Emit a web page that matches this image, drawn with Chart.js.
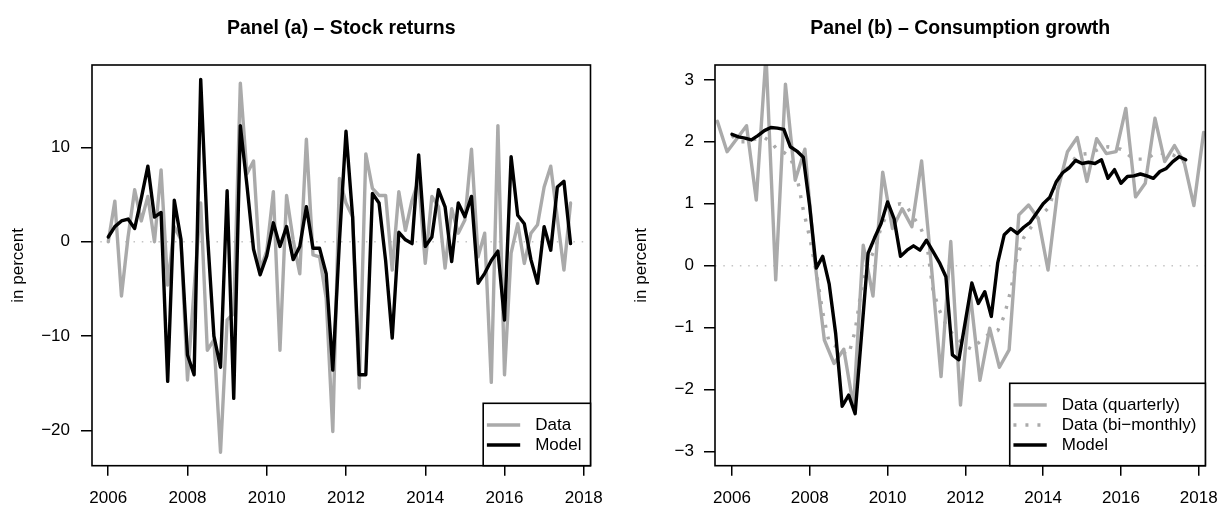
<!DOCTYPE html>
<html>
<head>
<meta charset="utf-8">
<script src="https://cdn.jsdelivr.net/npm/chart.js@4.4.0/dist/chart.umd.min.js"></script>
<style>
  html, body { margin: 0; padding: 0; background: #fff; }
  #wrap { position: relative; width: 1230px; height: 506px; }
  .panel { position: absolute; top: 0; width: 615px; height: 506px; }
</style>
</head>
<body>
<div id="wrap">
  <div class="panel" style="left:0"><canvas id="stock" width="615" height="506"></canvas></div>
  <div class="panel" style="left:615px"><canvas id="cons" width="615" height="506"></canvas></div>
</div>
<script>
// bi-monthly series start in Jan 2006, quarterly data start in mid-2005
const biMonthlyStart = 2006;
const quarterlyStart = 2005.625;

const yearTicks = [2006, 2008, 2010, 2012, 2014, 2016, 2018];
const stockTicks = [-20, -10, 0, 10];
const consTicks = [-3, -2, -1, 0, 1, 2, 3];

// Panel (a) - stock returns, in percent
const stockData = [
  0, 4.3, -5.75, 0.5, 5.5, 2.2, 4.8, 0, 7.6, -4.6,
  1.6, 0.2, -14.65, -5, 4.1, -11.5, -10.4, -22.3, -8.3, -7.6,
  16.8, 7.2, 8.55, -3.0, -1.0, 5.3, -11.5, 4.9, 0.2, -3.4,
  10.85, -1.4, -1.6, -6, -20.1, 6.7, 4.1, 2.65, -15.5, 9.3,
  5.65, 4.9, 4.9, -3.0, 5.3, 1.2, 4.4, 6.5, -2.3, 4.8,
  3.7, -2.8, 3.5, 0.9, 2.3, 9.8, -1.6, 0.9, -14.9, 12.3,
  -14.1, -1.2, 1.9, -2.3, 0.9, 1.8, 5.8, 8.0, 2.5, -3.0, 4.1
];
const stockModel = [
  0.5, 1.6, 2.2, 2.4, 1.4, 4.6, 8.0, 2.6, 3.1, -14.8,
  4.4, 0.3, -12, -14.1, 17.2, 1, -10, -13.3, 5.4, -16.6,
  12.3, 6.0, -0.8, -3.5, -1.5, 2.0, -0.5, 1.6, -1.9, -0.5,
  3.7, -0.7, -0.7, -3.4, -13.6, 0, 11.7, 2.65, -14.1, -14.1,
  5.1, 4.1, -2, -10.2, 1.0, 0.2, -0.2, 9.2, -0.5, 0.5,
  5.5, 3.7, -2.1, 4.1, 2.65, 4.8, -4.4, -3.35, -2, -1,
  -8.3, 9.0, 2.8, 1.9, -1.9, -4.4, 1.6, -0.9, 5.8, 6.4, -0.2
];

// Panel (b) - consumption growth, in percent
const consQuarterly = [
  2.33, 1.84, 2.05, 2.26, 1.06, 3.4, -0.23, 2.93, 1.38, 1.88,
  0.1, -1.2, -1.58, -1.35, -2.28, 0.33, -0.49, 1.51, 0.6, 0.92,
  0.63, 1.69, 0.0, -1.79, 0.39, -2.25, -0.45, -1.85, -1.01, -1.64,
  -1.36, 0.82, 0.98, 0.76, -0.07, 1.22, 1.84, 2.07, 1.36, 2.05,
  1.81, 1.84, 2.54, 1.11, 1.33, 2.38, 1.68, 1.94, 1.67, 0.97, 2.15
];
const consBiMonthly = [
  2.1, 2.0, 2.0, 2.03, 2.05, 2.07, 2.0, 1.87, 1.83, 1.75,
  1.45, 0.9, 0.45, -0.1, -0.75, -1.25, -1.3, -1.4, -1.44, -1.05,
  -0.35, 0.05, 0.25, 0.62, 0.85, 0.98, 1.0, 0.95, 0.78, 0.63,
  0.4, -0.4, -0.72, -0.95, -1.1, -1.2, -1.3, -1.35, -1.25, -1.15,
  -1.08, -1.05, -0.81, -0.4, 0.15, 0.45, 0.6, 0.76, 0.85, 0.95,
  1.36, 1.5, 1.6, 1.75, 1.8, 1.81, 1.85, 1.9, 1.92, 1.9,
  1.88, 1.8, 1.72, 1.72, 1.72, 1.8, 1.82, 1.8, 1.79, 1.72, 1.65
];
const consModel = [
  2.12, 2.08, 2.06, 2.03, 2.1, 2.18, 2.23, 2.22, 2.2, 1.92,
  1.85, 1.75, 0.95, -0.04, 0.15, -0.3, -1.1, -2.27, -2.09, -2.39,
  -1.1, 0.2, 0.45, 0.68, 1.03, 0.76, 0.15, 0.25, 0.32, 0.25,
  0.41, 0.23, 0.05, -0.18, -1.44, -1.52, -0.9, -0.28, -0.61, -0.42,
  -0.82, 0.05, 0.5, 0.6, 0.52, 0.62, 0.7, 0.85, 1.0, 1.1,
  1.35, 1.5, 1.58, 1.7, 1.65, 1.67, 1.65, 1.71, 1.41, 1.55,
  1.33, 1.44, 1.45, 1.48, 1.45, 1.41, 1.52, 1.57, 1.68, 1.76, 1.71
];

const FONT = '"Liberation Sans", Arial, Helvetica, sans-serif';
const GRAY = "#aaaaaa";
const LINE_W = 3.4;
Chart.defaults.font.family = FONT;
Chart.defaults.color = "#000";

const biMonthly = (values) => values.map((v, i) => ({ x: biMonthlyStart + i / 6, y: v }));
const quarterly = (values) => values.map((v, i) => ({ x: quarterlyStart + i / 4, y: v }));
const minus = (v) => (v < 0 ? "\u2212" + Math.abs(v) : String(v));

// frame around the plot region plus an R-style boxed legend in the bottom right
const frameAndLegend = {
  id: "frameAndLegend",
  afterDraw(chart, args, opts) {
    const { ctx, chartArea: a } = chart;
    ctx.save();
    ctx.strokeStyle = "#000";
    ctx.lineWidth = 1.6;
    ctx.strokeRect(a.left, a.top, a.right - a.left, a.bottom - a.top);

    ctx.font = "17px " + FONT;
    const textW = Math.max(...opts.items.map((it) => ctx.measureText(it.label).width));
    const w = textW + 61;
    const h = opts.items.length * 20 + 22.4;
    const x0 = a.right - w;
    const y0 = a.bottom - h;
    ctx.fillStyle = "#fff";
    ctx.fillRect(x0, y0, w, h);
    ctx.strokeRect(x0, y0, w, h);
    opts.items.forEach((it, i) => {
      const y = y0 + 21.7 + i * 20;
      ctx.strokeStyle = it.color;
      ctx.lineWidth = LINE_W;
      ctx.setLineDash(it.dash || []);
      ctx.beginPath();
      ctx.moveTo(x0 + 3.7, y);
      ctx.lineTo(x0 + 37, y);
      ctx.stroke();
      ctx.setLineDash([]);
      ctx.fillStyle = "#000";
      ctx.textBaseline = "middle";
      ctx.fillText(it.label, x0 + 52, y);
    });
    ctx.restore();
  },
};

function lineSet(points, color, dash) {
  return {
    data: points,
    borderColor: color,
    borderWidth: LINE_W,
    borderDash: dash || [],
    borderJoinStyle: "round",
    borderCapStyle: dash ? "butt" : "round",
    pointRadius: 0,
    tension: 0,
    clip: 0,
  };
}

function zeroLine(xMin, xMax) {
  return {
    data: [{ x: xMin, y: 0 }, { x: xMax, y: 0 }],
    borderColor: "#c4c4c4",
    borderWidth: 1.5,
    borderDash: [1.5, 6.8],
    pointRadius: 0,
    clip: 0,
  };
}

function makeChart(id, cfg) {
  return new Chart(document.getElementById(id), {
    type: "line",
    data: { datasets: cfg.datasets },
    plugins: [frameAndLegend],
    options: {
      responsive: false,
      animation: false,
      layout: { padding: { left: 0, right: cfg.rightPad, top: 0, bottom: 0 } },
      plugins: {
        legend: { display: false },
        tooltip: { enabled: false },
        title: {
          display: true,
          text: cfg.title,
          fullSize: false,
          color: "#000",
          font: { size: 19.5, weight: "bold" },
          padding: { top: 16.8, bottom: 24.8 },
        },
        frameAndLegend: { items: cfg.legend },
      },
      scales: {
        x: {
          type: "linear",
          min: cfg.xMin,
          max: cfg.xMax,
          afterBuildTicks: (s) => { s.ticks = yearTicks.map((v) => ({ value: v })); },
          afterFit: (s) => { s.height = 40.3; },
          border: { display: false },
          grid: { drawOnChartArea: false, drawTicks: true, tickLength: 10, color: "#000", lineWidth: 1.5 },
          ticks: { font: { size: 17 }, padding: 12, maxRotation: 0, autoSkip: false, callback: (v) => String(v) },
        },
        y: {
          min: cfg.yMin,
          max: cfg.yMax,
          afterBuildTicks: (s) => { s.ticks = cfg.yTicks.map((v) => ({ value: v })); },
          afterFit: (s) => { s.width = cfg.yWidth; },
          border: { display: false },
          grid: { drawOnChartArea: false, drawTicks: true, tickLength: 11, color: "#000", lineWidth: 1.5 },
          ticks: { font: { size: 17 }, padding: cfg.yLabelPad, autoSkip: false, callback: (v) => minus(v) },
          title: { display: true, text: "in percent", font: { size: 17 }, padding: { top: cfg.yTitlePad } },
        },
      },
    },
  });
}

makeChart("stock", {
  title: "Panel (a) \u2013 Stock returns",
  xMin: 2005.59, xMax: 2018.17,
  yMin: -23.73, yMax: 18.72,
  yTicks: stockTicks,
  yWidth: 92, yLabelPad: 11, yTitlePad: 8.1, rightPad: 24,
  datasets: [
    lineSet(biMonthly(stockModel), "#000"),
    lineSet(biMonthly(stockData), GRAY),
    zeroLine(2005.59, 2018.17),
  ],
  legend: [
    { label: "Data", color: GRAY },
    { label: "Model", color: "#000" },
  ],
});

makeChart("cons", {
  title: "Panel (b) \u2013 Consumption growth",
  xMin: 2005.564, xMax: 2018.17,
  yMin: -3.23, yMax: 3.24,
  yTicks: consTicks,
  yWidth: 100, yLabelPad: 10, yTitlePad: 16.1, rightPad: 15,
  datasets: [
    lineSet(biMonthly(consModel), "#000"),
    lineSet(quarterly(consQuarterly), GRAY),
    lineSet(biMonthly(consBiMonthly), GRAY, [3, 9]),
    zeroLine(2005.564, 2018.17),
  ],
  legend: [
    { label: "Data (quarterly)", color: GRAY },
    { label: "Data (bi\u2212monthly)", color: GRAY, dash: [3, 9] },
    { label: "Model", color: "#000" },
  ],
});
</script>
</body>
</html>
